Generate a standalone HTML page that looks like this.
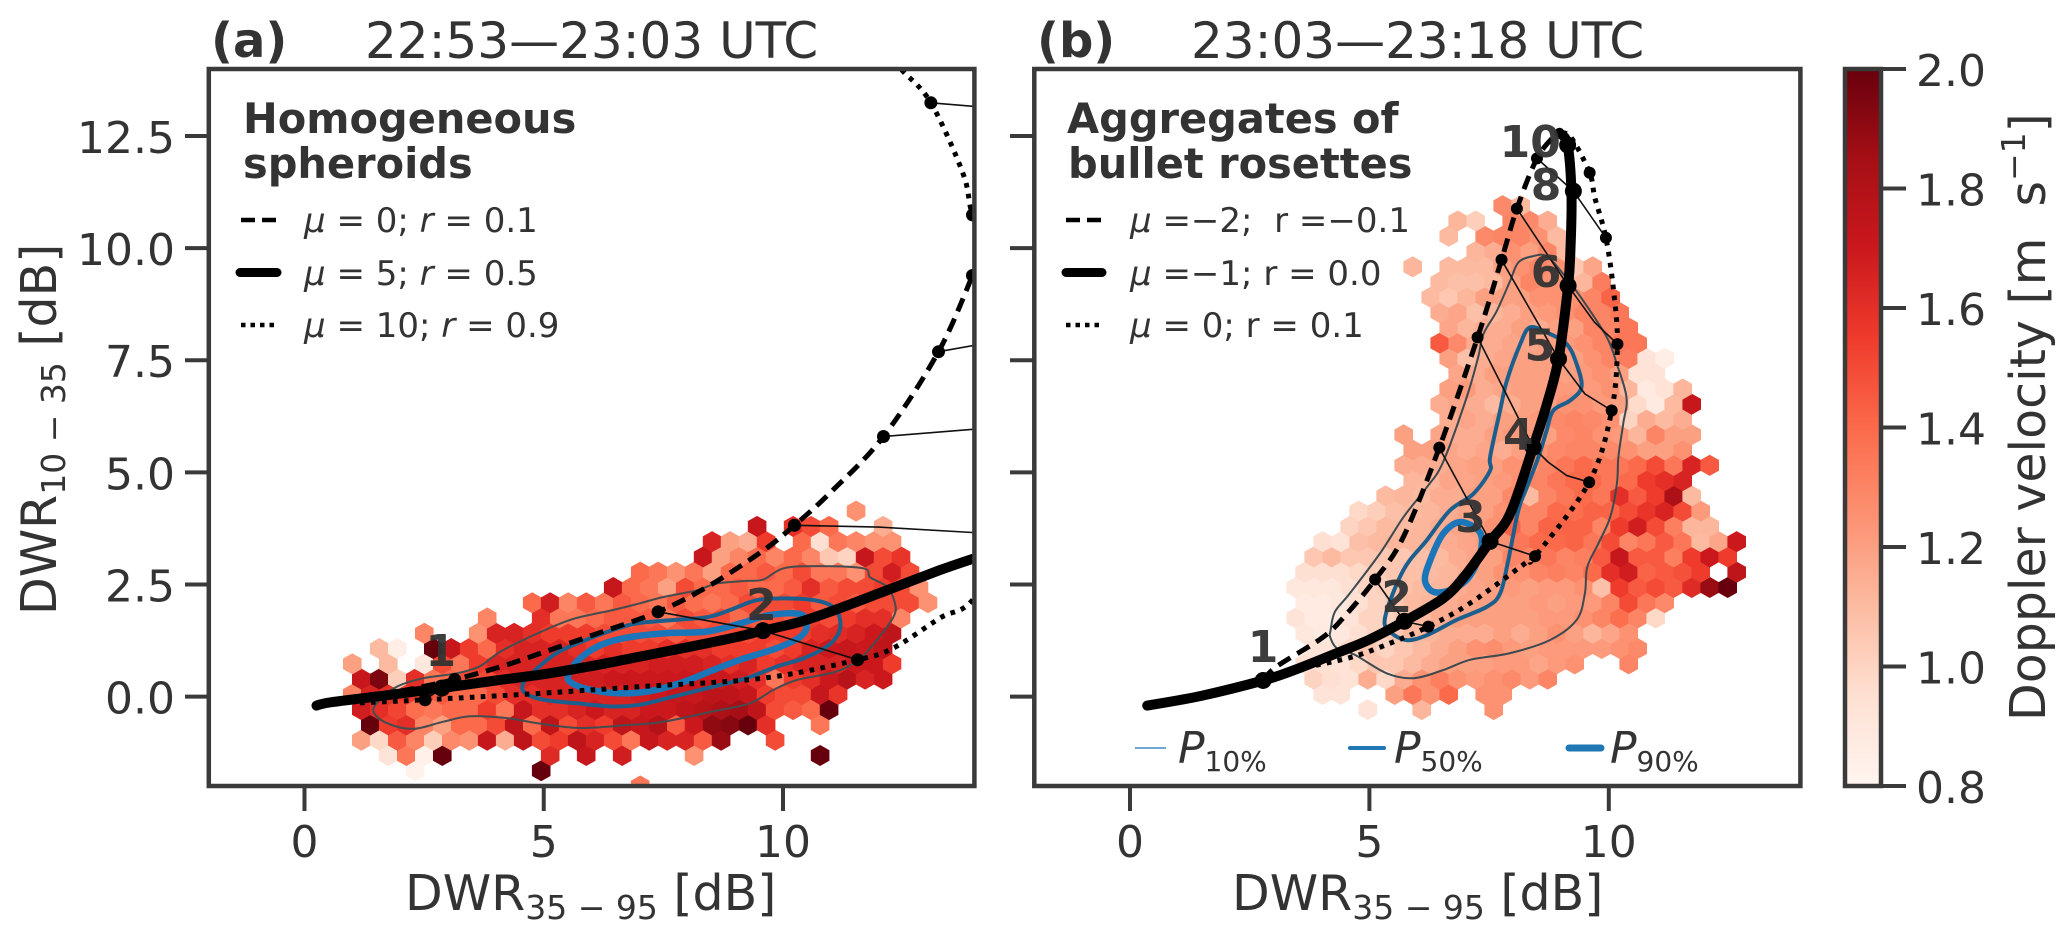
<!DOCTYPE html>
<html>
<head>
<meta charset="utf-8">
<title>DWR hexbin panels</title>
<style>
html,body{margin:0;padding:0;background:#fff;}
svg{display:block;}
text{font-family:"DejaVu Sans","Liberation Sans",sans-serif;fill:#333;white-space:pre;}
.tick{font-size:44px;}
.axl{font-size:49px;}
.sub{font-size:33px;}
.legsub{font-size:28px;}
.ttl{font-size:50px;}
.let{font-size:48px;font-weight:bold;}
.leghead{font-size:41.5px;font-weight:bold;}
.leg{font-size:34px;}
.it{font-style:italic;}
.num{font-size:44px;font-weight:bold;fill:#333;fill-opacity:.95;text-anchor:middle;}
</style>
</head>
<body>
<svg id="figure" xmlns="http://www.w3.org/2000/svg" width="2067" height="935" viewBox="0 0 2067 935">
  <defs>
    <clipPath id="clipA"><rect x="208.8" y="69" width="765.6" height="717"/></clipPath>
    <clipPath id="clipB"><rect x="1034.3" y="69" width="766.1" height="717"/></clipPath>
    <linearGradient id="redsGradient" x1="0" y1="1" x2="0" y2="0"></linearGradient>
  </defs>

  <g id="panelA" clip-path="url(#clipA)"></g>
  <g id="panelB" clip-path="url(#clipB)"></g>
  <g id="axesLayer"></g>

  <text class="let" x="211" y="57">(a)</text>
  <text class="ttl" x="365" y="58">22:53—23:03 UTC</text>
  <text class="let" x="1037" y="57">(b)</text>
  <text class="ttl" x="1191" y="58">23:03—23:18 UTC</text>

  <text class="axl" transform="translate(56,615) rotate(-90)">DWR<tspan class="sub" dy="9">10 − 35</tspan><tspan dy="-9"> [dB]</tspan></text>
  <text class="axl" x="405" y="910">DWR<tspan class="sub" dy="9">35 − 95</tspan><tspan dy="-9"> [dB]</tspan></text>
  <text class="axl" x="1232" y="910">DWR<tspan class="sub" dy="9">35 − 95</tspan><tspan dy="-9"> [dB]</tspan></text>
  <text class="axl" transform="translate(2045,721) rotate(-90)">Doppler velocity [m  s<tspan class="sub" dy="-20">−1</tspan><tspan dy="20">]</tspan></text>

  <g>
    <text class="leghead" x="243" y="133">Homogeneous</text>
    <text class="leghead" x="243" y="178">spheroids</text>
    <line x1="241" x2="277" y1="220" y2="220" stroke="#000" stroke-width="4.5" stroke-dasharray="14 7"/>
    <line x1="240" x2="277" y1="272.5" y2="272.5" stroke="#000" stroke-width="9" stroke-linecap="round"/>
    <line x1="241" x2="277" y1="325" y2="325" stroke="#000" stroke-width="4.5" stroke-dasharray="4.5 5"/>
    <text class="leg" x="304" y="232"><tspan class="it">μ</tspan> = 0; <tspan class="it">r</tspan> = 0.1</text>
    <text class="leg" x="304" y="285"><tspan class="it">μ</tspan> = 5; <tspan class="it">r</tspan> = 0.5</text>
    <text class="leg" x="304" y="337"><tspan class="it">μ</tspan> = 10; <tspan class="it">r</tspan> = 0.9</text>
  </g>

  <g>
    <text class="leghead" x="1067" y="133">Aggregates of</text>
    <text class="leghead" x="1068" y="178">bullet rosettes</text>
    <line x1="1066" x2="1102" y1="220" y2="220" stroke="#000" stroke-width="4.5" stroke-dasharray="14 7"/>
    <line x1="1066" x2="1102" y1="272.5" y2="272.5" stroke="#000" stroke-width="9" stroke-linecap="round"/>
    <line x1="1066" x2="1102" y1="325" y2="325" stroke="#000" stroke-width="4.5" stroke-dasharray="4.5 5"/>
    <text class="leg" x="1130" y="232"><tspan class="it">μ</tspan> =−2;  r =−0.1</text>
    <text class="leg" x="1130" y="285"><tspan class="it">μ</tspan> =−1; r = 0.0</text>
    <text class="leg" x="1130" y="337"><tspan class="it">μ</tspan> = 0; r = 0.1</text>

    <line x1="1135" x2="1166" y1="748" y2="748" stroke="#3f8cc4" stroke-width="1.6"/>
    <line x1="1350" x2="1384" y1="748" y2="748" stroke="#1f77b4" stroke-width="4" stroke-linecap="round"/>
    <line x1="1569" x2="1601" y1="748" y2="748" stroke="#1f77b4" stroke-width="7" stroke-linecap="round"/>
    <text class="axl" x="1178" y="763" style="font-size:44px"><tspan class="it">P</tspan><tspan class="legsub" dy="8">10%</tspan></text>
    <text class="axl" x="1394" y="763" style="font-size:44px"><tspan class="it">P</tspan><tspan class="legsub" dy="8">50%</tspan></text>
    <text class="axl" x="1610" y="763" style="font-size:44px"><tspan class="it">P</tspan><tspan class="legsub" dy="8">90%</tspan></text>
  </g>
</svg>

<script>
/* ---------- shared axis data ---------- */
const xTickValues = [0, 5, 10];
const yTickValues = [0, 2.5, 5, 7.5, 10, 12.5];
const yTickLabels = ['0.0', '2.5', '5.0', '7.5', '10.0', '12.5'];
const colorbarTicks = [0.8, 1.0, 1.2, 1.4, 1.6, 1.8, 2.0];
const colorbarLabels = ['0.8', '1.0', '1.2', '1.4', '1.6', '1.8', '2.0'];
const redsStops = ['#fff5f0', '#fee0d2', '#fcbba1', '#fc9272', '#fb6a4a', '#ef3b2c', '#cb181d', '#a50f15', '#67000d'];

/* ---------- panel (a) hexbin: [row, firstColumn, ...Doppler velocity] ---------- */
const n = null;
const hexRowsA = [
[-1,14,1.35],
[0,2,.82,n,n,n,n,n,n,2.0],
[1,0,.92,1.35,.83,2.0,n,n,n,n,n,1.62,n,1.72,n,1.68,n,n,n,1.25,n,n,n,n,n,n,2.0],
[2,-1,1.2,.98,1.45,1.3,1.02,1.28,1.25,1.72,1.15,1.75,1.5,1.55,1.75,1.65,1.5,1.35,1.72,1.65,1.65,1.45,1.88,n,n,1.5],
[3,-1,2.0,1.55,1.6,1.3,1.2,1.4,1.4,1.5,1.75,1.4,1.75,1.5,1.6,1.55,1.75,1.72,1.8,1.45,1.7,1.9,1.92,2.0,1.6,n,n,1.35],
[4,-1,1.68,1.6,1.52,1.38,1.35,1.4,1.4,1.55,1.35,1.72,1.6,1.6,1.65,1.7,1.65,1.65,1.7,1.7,1.75,1.78,1.82,1.85,1.75,1.5,1.45,1.4,2.0],
[5,-2,1.3,1.65,1.6,1.55,1.5,1.45,1.4,1.4,1.5,1.6,1.6,1.65,1.65,1.65,1.65,1.65,1.68,1.7,1.72,1.72,1.75,1.75,1.72,1.55,1.5,1.5,1.72,1.58],
[6,-1,1.72,1.95,1.02,1.6,1.35,1.4,1.5,1.5,1.6,1.65,1.65,1.65,1.68,1.68,1.7,1.7,1.7,1.7,1.7,1.7,1.7,1.68,1.6,1.35,1.55,1.6,1.7,1.78,1.65,1.7],
[7,-2,1.2,n,1.1,n,.9,1.5,1.35,1.55,1.65,1.65,1.65,1.65,1.65,1.65,1.65,1.65,1.65,1.68,1.68,1.68,1.65,1.6,1.65,1.55,1.6,1.65,1.65,1.65,1.7,1.7,1.55],
[8,0,1.1,.85,n,2.0,1.72,1.55,1.4,1.6,1.65,1.65,1.65,1.6,1.55,1.6,1.55,1.55,1.6,1.6,1.6,1.55,1.55,1.55,1.5,1.55,1.65,1.7,1.72,1.7,1.75],
[9,2,1.3,n,n,1.25,1.65,1.65,1.6,1.55,1.55,1.55,1.5,1.5,1.5,1.5,1.45,1.5,1.5,1.5,1.5,1.55,1.55,1.55,1.6,1.62,1.65,1.7,1.75],
[10,6,1.3,n,n,1.6,1.35,1.35,1.4,1.45,1.45,1.45,1.35,1.5,1.45,1.5,1.4,1.45,1.5,1.45,1.55,1.5,1.55,1.6,1.6,1.3],
[11,8,1.4,1.68,1.3,1.45,1.35,1.45,1.4,1.35,1.45,1.38,1.35,1.4,1.5,1.5,1.5,1.55,1.45,1.5,1.45,1.5,1.5,1.5,1.25],
[12,13,1.72,1.4,1.35,1.2,1.5,1.4,1.4,1.45,1.4,1.4,1.45,1.6,1.45,1.5,1.5,1.55,1.5,1.25],
[13,14,1.4,1.35,1.25,1.35,1.2,1.4,1.4,1.45,1.4,1.5,1.35,1.35,1.25,1.5,1.68,1.5],
[14,18,1.72,1.2,1.3,1.4,1.3,1.4,1.3,1.05,1.0,1.72,1.5,1.58],
[15,18,1.65,1.2,1.15,1.55,n,1.4,.95,1.35,1.3,1.25,1.25],
[16,21,1.72,n,1.6,1.5,1.4,n,n,1.15],
[17,26,1.25]
];

/* ---------- panel (b) hexbin ---------- */
const hexRowsB = [
[0,-7,.92,n,n,1.12,n,n,n,1.25],
[1,-10,.92,.92,n,n,1.2,1.35,1.25,1.4,n,1.25,1.25],
[2,-10,1.0,.95,.93,1.15,.98,1.15,1.25,1.32,1.25,1.22,1.25,1.28,1.22,1.3],
[3,-11,.95,.95,.93,.98,1.05,1.05,1.1,1.15,1.2,1.2,1.2,1.22,1.22,1.18,1.22,1.25,n,n,1.3],
[4,-10,.93,.92,.98,1.05,1.0,1.05,1.1,1.15,1.2,1.25,1.27,1.22,1.2,1.22,1.22,1.22,1.22,1.25,1.28],
[5,-11,.9,.88,.9,.95,1.0,1.05,1.1,1.12,1.15,1.15,1.15,1.2,1.15,1.2,1.25,1.2,1.12,1.18,1.25],
[6,-11,.92,.87,.87,.92,1.0,1.0,1.05,1.1,1.15,1.2,1.2,1.2,1.2,1.2,1.22,1.22,1.25,1.3,1.38,1.3,.98],
[7,-11,.87,.87,.9,.95,1.0,1.05,1.1,1.12,1.15,1.18,1.2,1.2,1.2,1.22,1.2,1.22,1.22,1.3,1.5,1.35,1.28],
[8,-11,.9,.9,.9,.95,1.0,1.02,1.08,1.1,1.12,1.15,1.18,1.2,1.22,1.2,1.22,1.22,1.25,1.08,1.55,1.45,1.5,1.45,1.62,1.88,2.0],
[9,-11,.95,.95,.95,.98,1.02,1.05,1.08,1.1,1.12,1.15,1.2,1.25,1.25,1.3,1.32,1.3,1.4,1.6,1.68,1.42,1.45,1.48,1.55,n,1.75],
[10,-10,1.05,1.1,1.05,1.05,1.05,1.05,1.08,1.1,1.15,1.18,1.2,1.3,1.3,1.35,1.3,1.32,1.45,1.72,1.45,1.45,1.32,1.55,1.7,1.55],
[11,-10,.95,.92,1.08,1.1,1.12,1.12,1.12,1.15,1.18,1.2,1.25,1.35,1.4,1.4,1.42,1.35,1.5,1.3,1.35,1.45,1.35,1.1,1.18,1.7],
[12,-8,1.0,1.05,1.1,1.1,1.12,1.15,1.18,1.2,1.25,1.42,1.3,1.42,1.42,1.42,1.3,1.55,1.68,1.5,1.32,1.12,1.12],
[13,-8,.98,1.02,1.08,1.1,1.12,1.15,1.18,1.2,1.25,1.3,1.3,1.4,1.38,1.42,1.42,1.5,1.58,1.65,1.5,1.22],
[14,-6,1.1,1.12,1.1,1.15,1.15,1.2,1.2,1.28,1.1,1.3,1.35,1.4,1.35,1.6,1.45,1.55,1.82,1.1],
[15,-5,1.12,1.12,1.18,1.18,1.2,1.22,1.25,1.3,1.35,1.4,1.4,1.35,1.4,1.55,1.6,1.65],
[16,-5,1.15,1.15,1.15,1.18,1.2,1.2,1.25,1.25,1.3,1.35,1.4,1.35,1.35,1.4,1.5,1.35,1.65,1.45],
[17,-5,1.2,1.2,1.18,1.15,1.18,1.15,1.2,1.25,1.28,1.3,1.3,1.28,1.25,1.2,1.2,1.25],
[18,-5,1.2,n,1.18,1.15,1.15,1.2,1.22,1.22,1.2,1.28,1.3,1.25,1.22,1.12,1.3,1.2,1.2],
[19,-3,1.15,1.18,1.15,1.2,1.2,1.22,1.28,1.3,1.28,1.25,1.0,1.15,1.1,1.15],
[20,-3,1.15,1.18,1.15,1.1,1.15,1.2,1.2,1.25,1.25,1.22,1.2,.97,.88,1.1,1.72],
[21,-3,1.2,1.22,1.15,1.18,1.2,1.2,1.22,1.22,1.22,1.25,1.12,.88,.93,1.12],
[22,-2,1.18,1.15,1.2,1.2,1.2,1.2,1.2,1.22,1.25,1.2,.93,.92],
[23,-3,1.2,1.08,1.15,1.18,1.2,1.2,1.2,1.2,1.25,1.3,1.33,.92,.85],
[24,-3,1.45,1.28,1.15,1.15,1.18,1.18,1.2,1.22,1.25,1.3,1.35,1.35],
[25,-3,1.18,1.12,1.15,1.15,1.2,1.15,1.2,1.2,1.3,1.3,1.35],
[26,-3,1.15,1.18,1.08,1.12,1.15,1.2,1.22,1.25,1.3,1.3,1.35],
[27,-4,1.1,1.05,1.12,1.2,1.2,1.2,1.25,1.25,1.25,1.3,1.42],
[28,-3,1.1,1.08,1.08,1.1,1.2,1.3,1.25,1.25,1.12,1.33],
[29,-5,1.12,n,1.1,1.1,1.1,1.2,1.25,1.3,1.25,1.05,1.18],
[30,-1,1.12,1.15,1.25,1.2,1.3,1.1],
[31,-3,1.1,n,1.28,1.3,1.3,1.25,1.1],
[32,-2,1.12,1.02,n,1.3,1.28,1.15],
[33,0,1.28,1.1]
];

/* ---------- panel (a) series (DWR35-95, DWR10-35) ---------- */
const solidA = [[.25,-.2],[.53,-.13],[1.5,0],[2.87,.19],[4,.36],[5,.5],[6,.68],[7,.89],[8,1.1],[9,1.32],[9.58,1.47],[10.3,1.65],[10.98,1.89],[12,2.3],[13.28,2.82],[14.1,3.12]];
const dashedA = [[2,.12],[3.14,.38],[4.2,.7],[5.13,1.04],[6.1,1.4],[7.39,1.89],[8.47,2.48],[9.59,3.26],[10.24,3.82],[11,4.56],[12.1,5.8],[13.25,7.69],[13.96,9.39],[14.1,9.8]];
const dottedA = [[1.16,-.14],[2.52,-.07],[4.57,.05],[7,.22],[9.58,.41],[11.56,.82],[12.3,1.08],[13.28,1.75],[14,2.2],[15,4],[15.5,7],[14.4,9.6],[13.96,10.74],[13.76,11.67],[13.09,13.24],[12.5,13.95],[12.3,14.2]];
const solidDotsA = [[2.87,.19],[9.58,1.47]];
const dashedDotsA = [[3.14,.38],[7.39,1.89],[10.24,3.82],[12.1,5.8],[13.25,7.69],[13.96,9.39]];
const dottedDotsA = [[2.52,-.07],[11.56,.82],[13.96,10.74],[13.09,13.24]];
const connectorsA = [
 [[3.14,.38],[2.87,.19],[2.52,-.07]],
 [[7.39,1.89],[9.58,1.47],[11.56,.82]],
 [[10.24,3.82],[12,3.78],[14.1,3.65]],
 [[12.1,5.8],[14.1,5.97]],
 [[13.25,7.69],[14.1,7.85]],
 [[13.09,13.24],[14.1,13.15]]
];
const contourP10A = [[1.44,-.33],[1.58,-.07],[1.93,.22],[2.48,.41],[3.18,.52],[3.67,.68],[4.09,1],[4.71,1.33],[5.55,1.71],[6.45,1.93],[7.01,2.08],[7.5,2.22],[8.2,2.37],[8.61,2.52],[9.24,2.58],[9.59,2.61],[10.01,2.86],[10.7,2.91],[11.68,2.86],[11.82,2.66],[12.17,2.45],[12.34,2.08],[12.31,1.78],[11.96,1.26],[11.61,.85],[11.12,.56],[10.29,.37],[9.8,.15],[9.31,-.15],[8.54,-.33],[7.5,-.56],[6.8,-.63],[5.76,-.7],[4.85,-.59],[4.23,-.48],[3.46,-.44],[2.9,-.56],[2.27,-.72],[1.72,-.59]];
const contourP50A = [[4.56,.26],[4.61,.08],[4.99,-.07],[5.69,-.15],[6.45,-.22],[7.01,-.18],[7.71,0],[8.54,.22],[9.24,.41],[9.87,.67],[10.42,.85],[10.91,1.11],[11.16,1.41],[11.19,1.74],[11.05,2],[10.7,2.14],[10.08,2.19],[9.45,2.15],[8.89,1.93],[8.41,1.77],[7.5,1.69],[6.8,1.6],[5.97,1.3],[5.27,.97],[4.71,.48]];
const contourP90A = [[5.51,.47],[5.69,.78],[6.11,1.11],[6.66,1.3],[7.5,1.41],[8.41,1.45],[9.1,1.63],[9.73,1.82],[10.36,1.84],[10.5,1.59],[10.36,1.33],[9.87,1.08],[9.1,.82],[8.54,.59],[7.85,.3],[7.15,.11],[6.45,.08],[5.83,.19],[5.55,.33]];
const labelsA = [['1',2.85,.68],['2',9.55,1.71]];

/* ---------- panel (b) series ---------- */
const solidB = [[.36,-.2],[1.5,.02],[2.78,.36],[3.5,.62],[4.32,.97],[5,1.27],[5.73,1.68],[6.54,2.19],[7,2.7],[7.52,3.46],[7.94,4.08],[8.42,5.56],[8.7,6.5],[8.95,7.53],[9.15,9.16],[9.2,10],[9.22,11.2],[9.14,12.3],[8.97,12.57]];
const dashedB = [[2.78,.36],[3.06,.67],[4.04,1.33],[4.53,1.85],[5.12,2.61],[5.71,3.56],[6.46,5.55],[7.26,8.01],[7.76,9.74],[8.08,10.88],[8.5,12],[8.86,12.5]];
const dottedB = [[2.78,.36],[3.62,.63],[4.66,.89],[5.5,1.22],[6.23,1.56],[7.1,2.08],[8.25,2.97],[8.46,3.13],[9.59,4.78],[10.06,6.38],[10.18,7.86],[10.1,9.05],[9.94,10.23],[9.71,11.12],[9.6,11.68],[9.21,12.47],[8.97,12.57]];
const solidDotsB = [[2.78,.36],[5.73,1.68],[7.52,3.46],[8.42,5.56],[8.95,7.53],[9.15,9.16],[9.26,11.27],[9.14,12.3]];
const dashedDotsB = [[5.12,2.61],[6.46,5.55],[7.26,8.01],[7.76,9.74],[8.08,10.88],[8.5,12]];
const dottedDotsB = [[6.23,1.56],[8.46,3.13],[9.59,4.78],[10.06,6.38],[10.18,7.86],[9.94,10.23],[9.6,11.68]];
const connectorsB = [
 [[5.12,2.61],[5.73,1.68],[6.23,1.56]],
 [[6.46,5.55],[7.52,3.46],[8.46,3.13]],
 [[7.26,8.01],[8.42,5.56],[8.73,5.23],[9.12,4.93],[9.59,4.78]],
 [[7.76,9.74],[8.95,7.53],[9.5,6.75],[10.06,6.38]],
 [[8.08,10.88],[9.15,9.16],[9.7,8.35],[10.18,7.86]],
 [[8.5,12],[9.26,11.27],[9.94,10.23]]
];
const contourP10B = [[4.19,1.48],[4.28,1.89],[4.59,2.3],[5.22,3.19],[5.71,4],[6.2,4.67],[6.54,5.23],[7.03,6.67],[7.27,7.56],[7.38,8.08],[7.66,8.6],[7.94,9.27],[8.11,9.68],[8.42,9.82],[8.7,9.82],[9.05,9.42],[9.47,8.82],[9.96,8.01],[10.17,7.41],[10.37,6.67],[10.3,6.08],[10.2,5.34],[10.17,4.75],[10.03,4],[9.78,3.41],[9.55,2.89],[9.5,2.3],[9.33,1.71],[8.77,1.26],[7.94,.97],[7.1,.82],[6.54,.59],[5.92,.41],[5.36,.52],[4.7,.93],[4.32,1.08],[4.18,1.33]];
const contourP50B = [[7.52,5.34],[7.73,6.38],[7.87,7.04],[8.15,7.86],[8.35,8.23],[8.7,8.12],[9.12,7.86],[9.33,7.41],[9.43,6.9],[9.19,6.6],[8.84,6.38],[8.7,5.93],[8.53,5.34],[8.29,4.67],[8.11,4.15],[7.9,3.04],[7.73,2.3],[7.45,2],[6.82,1.71],[6.2,1.37],[5.78,1.26],[5.43,1.45],[5.33,1.78],[5.71,2.82],[6.2,3.49],[6.68,4.15],[7.17,4.52],[7.52,5.04]];
const contourP90B = [[6.33,2.34],[6.16,2.6],[6.27,3.04],[6.54,3.63],[6.89,3.89],[7.27,3.71],[7.35,3.41],[7.24,2.97],[7.03,2.6],[6.68,2.37]];
const labelsB = [['1',2.78,.77],['2',5.57,1.89],['3',7.11,3.67],['4',8.11,5.5],['5',8.56,7.49],['6',8.69,9.13],['8',8.69,11.07],['10',8.36,12.03]];

/* ---------- scales ---------- */
const SVGNS = 'http://www.w3.org/2000/svg';
const xScaleA = d => 304.5 + 47.85 * d;
const xScaleB = d => 1130 + 47.88 * d;
const yScale = d => 696.6 - 44.85 * d;
const cbarY = v => 786 - (v - 0.8) / 1.2 * 717;

function mix(a, b, t) {
  const pa = [1, 3, 5].map(i => parseInt(a.substr(i, 2), 16));
  const pb = [1, 3, 5].map(i => parseInt(b.substr(i, 2), 16));
  return 'rgb(' + pa.map((p, i) => Math.round(p + (pb[i] - p) * t)).join(',') + ')';
}
function colorOf(v) {
  const t = Math.max(0, Math.min(1, (v - 0.8) / 1.2)) * (redsStops.length - 1);
  const i = Math.min(redsStops.length - 2, Math.floor(t));
  return mix(redsStops[i], redsStops[i + 1], t - i);
}
function make(tag, parent) {
  const el = document.createElementNS(SVGNS, tag);
  parent.appendChild(el);
  return el;
}
function smoothPath(pts, closed) {
  const N = pts.length;
  const get = i => closed ? pts[(i + N) % N] : pts[Math.max(0, Math.min(N - 1, i))];
  let d = 'M' + pts[0][0].toFixed(1) + ' ' + pts[0][1].toFixed(1);
  const last = closed ? N : N - 1;
  for (let i = 0; i < last; i++) {
    const p0 = get(i - 1), p1 = get(i), p2 = get(i + 1), p3 = get(i + 2);
    const c1x = p1[0] + (p2[0] - p0[0]) / 6, c1y = p1[1] + (p2[1] - p0[1]) / 6;
    const c2x = p2[0] - (p3[0] - p1[0]) / 6, c2y = p2[1] - (p3[1] - p1[1]) / 6;
    d += 'C' + c1x.toFixed(1) + ' ' + c1y.toFixed(1) + ' ' + c2x.toFixed(1) + ' ' + c2y.toFixed(1) + ' ' + p2[0].toFixed(1) + ' ' + p2[1].toFixed(1);
  }
  return closed ? d + 'Z' : d;
}

/* ---------- hexbin ---------- */
const hexDX = 0.376, hexDY = 0.3405, hexHalfH = 0.2270;
function drawHexes(g, rows, x0, y0, xS) {
  rows.forEach(row => {
    const r = row[0], start = row[1];
    row.slice(2).forEach((v, k) => {
      if (v === null) return;
      const cx = x0 + (start + k) * hexDX + (((r % 2) + 2) % 2 ? hexDX / 2 : 0);
      const cy = y0 + r * hexDY;
      const corners = [[0, 1], [.5, .5], [.5, -.5], [0, -1], [-.5, -.5], [-.5, .5]]
        .map(o => xS(cx + o[0] * hexDX).toFixed(1) + ',' + yScale(cy + o[1] * hexHalfH).toFixed(1));
      const hex = make('polygon', g);
      hex.setAttribute('points', corners.join(' '));
      hex.setAttribute('fill', colorOf(v));
      hex.setAttribute('stroke', colorOf(v));
      hex.setAttribute('stroke-width', '0.6');
      
      
    });
  });
}

/* ---------- curve helpers ---------- */
function drawContour(g, pts, xS, color, width, name) {
  const p = make('path', g);
  p.setAttribute('d', smoothPath(pts.map(q => [xS(q[0]), yScale(q[1])]), true));
  p.setAttribute('fill', 'none');
  p.setAttribute('stroke', color);
  p.setAttribute('stroke-width', width);
  
  
}
function drawCurve(g, pts, xS, width, dash, cap, name) {
  const p = make('path', g);
  p.setAttribute('d', smoothPath(pts.map(q => [xS(q[0]), yScale(q[1])]), false));
  p.setAttribute('fill', 'none');
  p.setAttribute('stroke', '#000');
  p.setAttribute('stroke-width', width);
  p.setAttribute('stroke-linecap', cap);
  p.setAttribute('stroke-linejoin', 'round');
  if (dash) p.setAttribute('stroke-dasharray', dash);
  
  
}
function drawDots(g, pts, xS, r, name) {
  pts.forEach(q => {
    const c = make('circle', g);
    c.setAttribute('cx', xS(q[0]));
    c.setAttribute('cy', yScale(q[1]));
    c.setAttribute('r', r);
    c.setAttribute('fill', '#000');
    
    
  });
}
function drawConnectors(g, sets, xS) {
  sets.forEach(pts => {
    const p = make('polyline', g);
    p.setAttribute('points', pts.map(q => xS(q[0]).toFixed(1) + ',' + yScale(q[1]).toFixed(1)).join(' '));
    p.setAttribute('fill', 'none');
    p.setAttribute('stroke', '#111');
    p.setAttribute('stroke-width', '1.6');
    
    
  });
}
function drawLabels(g, labels, xS) {
  labels.forEach(l => {
    const t = make('text', g);
    t.setAttribute('class', 'num');
    t.setAttribute('x', xS(l[1]));
    t.setAttribute('y', yScale(l[2]));
    t.textContent = l[0];
    
    
  });
}

/* ---------- panel a ---------- */
const gA = document.getElementById('panelA');
drawHexes(gA, hexRowsA, 1.563, -1.653, xScaleA);
drawContour(gA, contourP10A, xScaleA, '#444c50', 2, 'contour-p10-a');
drawContour(gA, contourP50A, xScaleA, '#1d5f8c', 4, 'contour-p50-a');
drawContour(gA, contourP90A, xScaleA, '#1a76b8', 6.5, 'contour-p90-a');
drawConnectors(gA, connectorsA, xScaleA);
drawCurve(gA, dashedA, xScaleA, 5, '14 8', 'butt', 'curve-dashed-a');
drawCurve(gA, dottedA, xScaleA, 5, '4.7 6.3', 'butt', 'curve-dotted-a');
drawCurve(gA, solidA, xScaleA, 10, '', 'round', 'curve-solid-a');
drawDots(gA, dashedDotsA, xScaleA, 6.5, 'dashed-size-point-a');
drawDots(gA, dottedDotsA, xScaleA, 6.5, 'dotted-size-point-a');
drawDots(gA, solidDotsA, xScaleA, 8.5, 'solid-size-point-a');
drawLabels(gA, labelsA, xScaleA);

/* ---------- panel b ---------- */
const gB = document.getElementById('panelB');
drawHexes(gB, hexRowsB, 7.596, -.291, xScaleB);
drawContour(gB, contourP10B, xScaleB, '#3c4a50', 2, 'contour-p10-b');
drawContour(gB, contourP50B, xScaleB, '#1d5f8c', 4, 'contour-p50-b');
drawContour(gB, contourP90B, xScaleB, '#1a76b8', 6.5, 'contour-p90-b');
drawConnectors(gB, connectorsB, xScaleB);
drawCurve(gB, dashedB, xScaleB, 5, '14 8', 'butt', 'curve-dashed-b');
drawCurve(gB, dottedB, xScaleB, 5, '4.7 6.3', 'butt', 'curve-dotted-b');
drawCurve(gB, solidB, xScaleB, 10, '', 'round', 'curve-solid-b');
drawDots(gB, dashedDotsB, xScaleB, 6, 'dashed-size-point-b');
drawDots(gB, dottedDotsB, xScaleB, 6, 'dotted-size-point-b');
drawDots(gB, solidDotsB, xScaleB, 8.5, 'solid-size-point-b');
drawLabels(gB, labelsB, xScaleB);

/* ---------- axes ---------- */
const ax = document.getElementById('axesLayer');
const SPINE = '#3a3a3a';
function frame(x, y, w, h, name) {
  const r = make('rect', ax);
  r.setAttribute('x', x);
  r.setAttribute('y', y);
  r.setAttribute('width', w);
  r.setAttribute('height', h);
  r.setAttribute('fill', 'none');
  r.setAttribute('stroke', SPINE);
  r.setAttribute('stroke-width', '4.5');
  
  
}
function tick(x1, y1, x2, y2, name) {
  const l = make('line', ax);
  l.setAttribute('x1', x1);
  l.setAttribute('y1', y1);
  l.setAttribute('x2', x2);
  l.setAttribute('y2', y2);
  l.setAttribute('stroke', SPINE);
  l.setAttribute('stroke-width', '4');
  
  
}
function tickLabel(x, y, anchor, str, name) {
  const t = make('text', ax);
  t.setAttribute('class', 'tick');
  t.setAttribute('x', x);
  t.setAttribute('y', y);
  t.setAttribute('text-anchor', anchor);
  t.textContent = str;
  
  
}
frame(208.8, 69, 765.6, 717, 'panel-a-frame');
frame(1034.3, 69, 766.1, 717, 'panel-b-frame');
xTickValues.forEach(v => {
  tick(xScaleA(v), 786, xScaleA(v), 811, 'x-tick-a');
  tickLabel(xScaleA(v), 857, 'middle', String(v), 'x-tick-label-a');
  tick(xScaleB(v), 786, xScaleB(v), 811, 'x-tick-b');
  tickLabel(xScaleB(v), 857, 'middle', String(v), 'x-tick-label-b');
});
yTickValues.forEach((v, i) => {
  tick(208.8, yScale(v), 185, yScale(v), 'y-tick-a');
  tickLabel(175, yScale(v) + 17, 'end', yTickLabels[i], 'y-tick-label-a');
  tick(1034.3, yScale(v), 1010, yScale(v), 'y-tick-b');
});

/* ---------- colorbar ---------- */
const grad = document.getElementById('redsGradient');
redsStops.forEach((c, i) => {
  const s = make('stop', grad);
  s.setAttribute('offset', (i / (redsStops.length - 1) * 100) + '%');
  s.setAttribute('stop-color', c);
});
const bar = make('rect', ax);
bar.setAttribute('x', 1845);
bar.setAttribute('y', 69);
bar.setAttribute('width', 36);
bar.setAttribute('height', 717);
bar.setAttribute('fill', 'url(#redsGradient)');


frame(1845, 69, 36, 717, 'colorbar-frame');
colorbarTicks.forEach((v, i) => {
  tick(1881, cbarY(v), 1906, cbarY(v), 'colorbar-tick');
  tickLabel(1916, cbarY(v) + 17, 'start', colorbarLabels[i], 'colorbar-tick-label');
});
</script>
</body>
</html>
